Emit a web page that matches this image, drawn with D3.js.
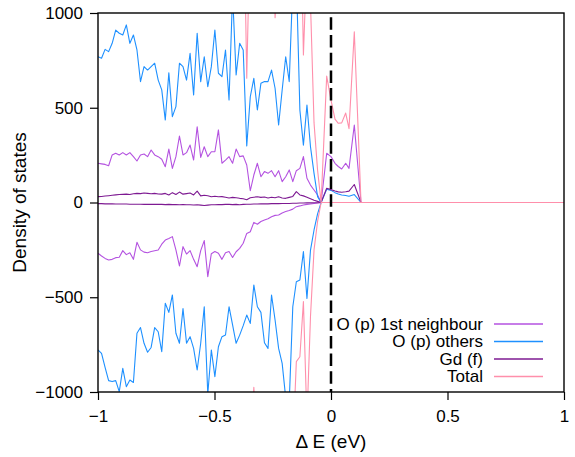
<!DOCTYPE html>
<html>
<head>
<meta charset="utf-8">
<script src="https://cdn.jsdelivr.net/npm/d3@7"></script>
<style>
  html, body { margin: 0; padding: 0; background: #fff; }
  svg { display: block; }
  text { font-family: "Liberation Sans", Arial, Helvetica, sans-serif; fill: #000; }
</style>
</head>
<body>
<svg id="chart" width="575" height="457"></svg>
<script>
// ---------------- data ----------------
const energy = [
  -1.0000,-0.9848,-0.9696,-0.9544,-0.9392,-0.9240,-0.9088,-0.8936,-0.8784,-0.8632,
  -0.8480,-0.8328,-0.8176,-0.8024,-0.7872,-0.7720,-0.7568,-0.7416,-0.7264,-0.7112,
  -0.6960,-0.6808,-0.6656,-0.6504,-0.6352,-0.6200,-0.6048,-0.5896,-0.5744,-0.5592,
  -0.5440,-0.5288,-0.5136,-0.4984,-0.4832,-0.4680,-0.4528,-0.4376,-0.4224,-0.4072,
  -0.3920,-0.3768,-0.3616,-0.3464,-0.3312,-0.3160,-0.3008,-0.2856,-0.2704,-0.2552,
  -0.2400,-0.2248,-0.2096,-0.1944,-0.1792,-0.1640,-0.1488,-0.1336,-0.1184,-0.1032,
  -0.0880,-0.0728,-0.0576,-0.0424,
  -0.0185,0.0000,0.0172,0.0313,0.0459,0.0631,0.0773,0.1000,0.1288,1.0000
];

const firstUp = [
  207,204,201,194,251,260,251,263,251,263, 242,219,251,256,242,277,251,242,228,189,
  282,180,242,351,251,263,303,224,400,238, 294,242,268,268,383,207,224,242,207,282,
  242,246,198,62,145,207,136,163,154,168, 136,168,110,136,172,110,168,180,242,128,
  92,66,40,0,
  260,242,207,190,177,207,180,409,0,0
];
const firstDown = [
  -268,-282,-295,-303,-300,-291,-289,-254,-275,-265, -300,-210,-250,-262,-265,-259,-255,-251,-220,-198,
  -190,-180,-250,-335,-233,-272,-254,-300,-339,-254, -201,-391,-270,-259,-268,-300,-265,-259,-290,-260,
  -242,-215,-163,-154,-105,-115,-100,-92,-86,-75, -68,-66,-55,-48,-42,-35,-22,-18,-13,-10,
  -8,-5,-3,0,
  0,0,0,0,0,0,0,0,0,0
];
const othersUp = [
  769,761,808,796,840,910,893,884,937,840, 884,805,638,717,699,717,735,646,594,435,
  685,453,506,735,717,646,787,567,893,638, 769,611,717,910,682,664,805,541,1100,673,
  840,805,298,558,655,488,629,638,638,699, 603,409,594,769,638,1150,1200,488,303,514,
  294,154,31,0,
  70,64,52,45,40,37,33,42,0,0
];
const othersDown = [
  -778,-796,-870,-940,-945,-940,-998,-875,-972,-937, -950,-690,-660,-743,-790,-765,-660,-682,-787,-532,
  -580,-488,-690,-743,-560,-743,-708,-770,-884,-743, -550,-1010,-778,-919,-761,-708,-699,-550,-646,-743,
  -700,-650,-594,-638,-435,-550,-580,-740,-770,-488, -620,-770,-849,-1030,-1050,-550,-418,-409,-259,-506,
  -251,-145,-60,0,
  0,0,0,0,0,0,0,0,0,0
];
const gdUp = [
  31,32,34,36,38,40,42,43,44,42, 46,48,47,50,48,46,48,45,44,48,
  40,52,42,55,44,47,50,40,60,35, 38,36,30,33,30,31,28,24,27,25,
  22,20,15,25,28,30,27,29,24,28, 25,30,24,22,27,32,57,40,35,28,
  20,12,6,0,
  75,68,61,56,54,57,60,95,0,0
];
const gdDown = [
  -6,-6,-7,-7,-7,-8,-8,-8,-8,-9, -9,-9,-9,-10,-10,-9,-10,-10,-10,-11,
  -10,-11,-11,-12,-11,-12,-12,-13,-12,-14, -16,-14,-12,-12,-11,-11,-10,-10,-11,-10,
  -12,-10,-9,-9,-8,-8,-7,-7,-7,-6, -6,-6,-5,-5,-5,-4,-4,-3,-3,-2,
  -2,-1,-1,0,
  0,0,0,0,0,0,0,0,0,0
];
const totalUp = [
  1900,1850,1950,1900,2000,2100,2050,2000,2150,2000, 2050,1950,1750,1850,1800,1850,1900,1750,1700,1500,
  1800,1550,1600,1850,1800,1700,1900,1650,2100,1700, 1850,1700,1800,2100,1750,1700,1900,1550,2200,1700,
  1900,1750,656,1500,1700,1400,1600,1650,1600,1700, 975,1300,1500,1800,1600,2200,2300,1800,778,1300,
  1050,420,170,0,
  667,540,440,418,420,472,390,901,0,0
];
const totalDown = [
  -1700,-1750,-1850,-1900,-1950,-1900,-2000,-1850,-1950,-1900, -1950,-1600,-1550,-1700,-1750,-1700,-1550,-1600,-1750,-1400,
  -1450,-1350,-1600,-1650,-1450,-1650,-1600,-1700,-1850,-1650, -1400,-2000,-1700,-1850,-1650,-1600,-1600,-1400,-1500,-1650,
  -1550,-1450,-1350,-1400,-975,-1300,-1350,-1550,-1600,-1250, -1400,-1600,-1750,-2000,-2050,-1300,-840,-814,-523,-1150,
  -600,-250,-100,0,
  0,0,0,0,0,0,0,0,0,0
];

const seriesNames = ["O (p) 1st neighbour", "O (p) others", "Gd (f)", "Total"];
const seriesColors = ["#b452e0", "#1e90ff", "#7e1a92", "#ff8fab"];
const seriesData = [[firstUp, firstDown], [othersUp, othersDown], [gdUp, gdDown], [totalUp, totalDown]];

const xTicks = [-1, -0.5, 0, 0.5, 1];
const yTicks = [-1000, -500, 0, 500, 1000];
const xLabel = "\u0394 E (eV)";
const yLabel = "Density of states";

// ---------------- drawing ----------------
const svg = d3.select("#chart");
const L = 98, R = 564, T = 13, B = 392;
const x = d3.scaleLinear().domain([-1, 1]).range([L, R]);
const y = d3.scaleLinear().domain([-1000, 1000]).range([B, T]);
const fmt = v => (v < 0 ? "\u2212" : "") + Math.abs(v);

svg.append("defs").append("clipPath").attr("id", "clip")
  .append("rect").attr("x", L).attr("y", T).attr("width", R - L).attr("height", B - T);

const plot = svg.append("g").attr("clip-path", "url(#clip)");
const line = d3.line().x((d, i) => x(energy[i])).y(d => y(d));

seriesData.forEach((pair, k) => {
  pair.forEach(vals => {
    plot.append("path").datum(vals)
      .attr("fill", "none")
      .attr("stroke", seriesColors[k])
      .attr("stroke-width", 1.1)
      .attr("stroke-linejoin", "round")
      .attr("d", line);
  });
});

// dashed zero line
svg.append("line")
  .attr("x1", x(0)).attr("x2", x(0)).attr("y1", T).attr("y2", B)
  .attr("stroke", "#000").attr("stroke-width", 2.5)
  .attr("stroke-dasharray", "12.5,5.2").attr("stroke-dashoffset", -4.3);

// axes
const xAxis = svg.append("g").attr("transform", `translate(0,${B})`)
  .call(d3.axisBottom(x).tickValues(xTicks).tickFormat(fmt).tickSize(8).tickPadding(10));
const yAxis = svg.append("g").attr("transform", `translate(${L},0)`)
  .call(d3.axisLeft(y).tickValues(yTicks).tickFormat(fmt).tickSize(8).tickPadding(7));
[xAxis, yAxis].forEach(g => {
  g.select(".domain").remove();
  g.selectAll(".tick line").attr("stroke", "#000").attr("stroke-width", 1.2);
  g.selectAll(".tick text").attr("font-size", 17)
    .attr("font-family", "'Liberation Sans', Arial, sans-serif").attr("fill", "#000");
});

// frame
svg.append("rect").attr("x", L).attr("y", T).attr("width", R - L).attr("height", B - T)
  .attr("fill", "none").attr("stroke", "#000").attr("stroke-width", 1.4);

// axis labels
svg.append("text").attr("x", (L + R) / 2).attr("y", 448)
  .attr("text-anchor", "middle").attr("font-size", 19).text(xLabel);
svg.append("text").attr("transform", `translate(26,${(T + B) / 2}) rotate(-90)`)
  .attr("text-anchor", "middle").attr("font-size", 19).text(yLabel);

// legend
const legendY = [324, 341.5, 359, 376.5];
seriesNames.forEach((name, k) => {
  svg.append("text").attr("x", 483).attr("y", legendY[k]).attr("dy", "0.35em")
    .attr("text-anchor", "end").attr("font-size", 17).text(name);
  svg.append("line").attr("x1", 494).attr("x2", 543)
    .attr("y1", legendY[k]).attr("y2", legendY[k])
    .attr("stroke", seriesColors[k]).attr("stroke-width", 1.3);
});
</script>
</body>
</html>
